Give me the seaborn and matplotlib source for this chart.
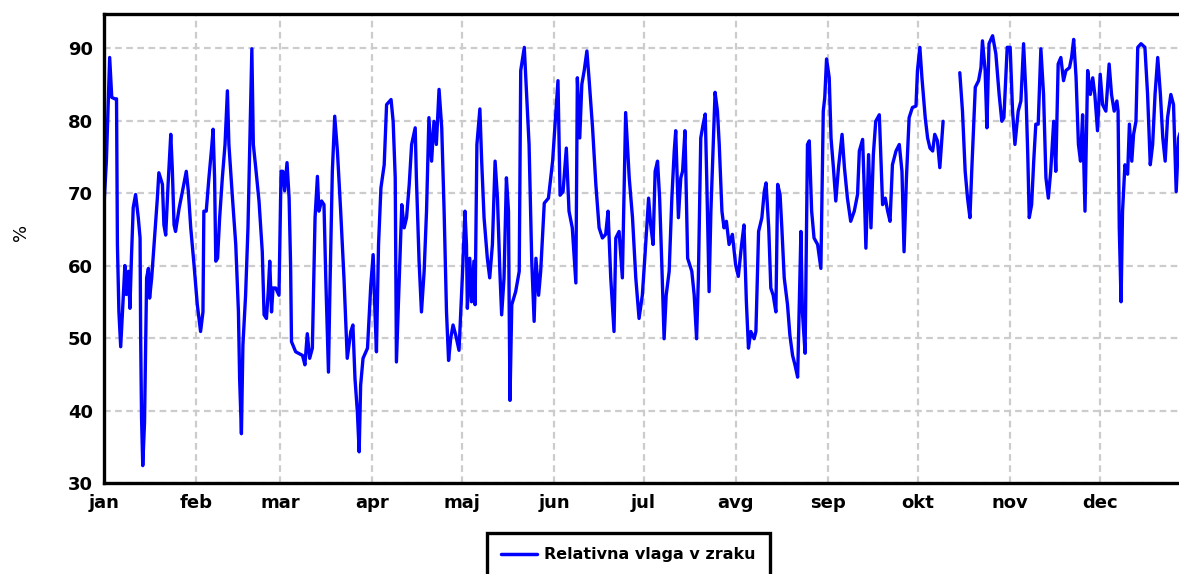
import numpy as np
import pandas as pd
import matplotlib
matplotlib.use("Agg")
import matplotlib.pyplot as plt
import seaborn as sns

# ---- data -------------------------------------------------------------
month_starts = [0, 31, 59, 90, 120, 151, 181, 212, 243, 273, 304, 334]
month_labels = ["jan", "feb", "mar", "apr", "maj", "jun", "jul", "avg",
                "sep", "okt", "nov", "dec"]
y_ticks = [30, 40, 50, 60, 70, 80, 90]
series_name = "Relativna vlaga v zraku"
y_label = "%"

days = [
    0, 0.8, 1.9, 2.6, 3.6, 4.2, 4.5, 5.0, 5.6, 7.0, 7.5, 8.2, 8.7, 9.2, 9.8,
    10.6, 11.5, 12.1, 12.3, 12.6, 13.0, 13.6, 14.3, 14.9, 15.3, 16.0, 16.8,
    17.9, 18.4, 19.6, 20.1, 20.7, 21.5, 22.4, 22.9, 23.5, 24.0, 25.2, 26.3,
    27.6, 28.3, 29.1, 30.2, 31.3, 32.4, 33.2, 33.5, 34.3, 35.2, 36.1, 36.6,
    37.1, 37.5, 38.1, 38.8, 39.7, 40.6, 41.4, 41.9, 43.1, 44.2, 45.1, 45.5,
    46.1, 46.6, 47.5, 48.3, 48.9, 49.6, 50.1, 50.9, 52.0, 53.1, 53.7, 54.5,
    55.1, 55.6, 56.2, 56.7, 57.6, 58.7,
    59.4, 60.0, 60.6, 61.4, 62.1, 62.6, 62.9, 64.3, 66.6, 67.4, 68.2, 69.0,
    69.9, 70.8, 71.6, 72.1, 73.0, 73.8, 74.4, 75.3, 75.8, 76.6, 77.4, 78.3,
    79.4, 80.5, 81.6, 82.2, 82.8, 83.5, 84.2, 85.0, 85.6, 86.1, 86.9, 88.4,
    89.5, 90.3, 90.9, 91.4, 92.1, 92.9, 94.0, 94.8, 96.3, 97.0, 97.7, 98.1,
    98.8, 99.9, 100.7, 101.5, 102.4, 103.2, 104.4, 104.8, 105.7, 106.5,
    107.4, 108.2, 109.0, 109.9, 110.7, 111.5, 112.4, 113.3, 114.1, 114.9,
    115.6, 116.3, 117.1, 118.0, 119.1,
    120.2, 121.1, 121.6, 121.9, 122.7, 123.3, 124.1, 124.5, 125.1, 126.1,
    126.7, 127.5, 128.6, 129.4, 130.3, 131.2, 132.0, 132.8, 133.4, 134.2,
    135.0, 135.7, 135.9, 136.2, 136.8, 138.1, 139.3, 139.8, 141.0, 141.5,
    142.6, 143.5, 144.3, 144.9, 145.8, 146.5, 147.7, 149.1, 150.5, 151.6,
    152.3, 153.0, 154.0, 155.1, 156.0, 157.1, 158.3, 158.8, 159.6, 160.3,
    161.1, 162.0, 162.7, 163.9, 165.0, 166.1, 167.2, 168.3, 169.1, 170.0,
    171.1, 171.7, 172.8, 173.9, 175.0, 176.2, 177.3, 178.4, 179.5,
    180.6, 181.5, 182.7, 183.4, 184.2, 184.9, 185.7, 186.4, 187.1, 187.9,
    188.6, 189.6, 190.5, 191.3, 191.8, 192.7, 193.5, 194.1, 194.9, 195.8,
    197.2, 198.0, 198.8, 199.4, 200.2, 201.0, 201.7, 202.2, 203.0, 203.6,
    204.4, 205.0, 205.8, 206.4, 207.3, 208.0, 208.8, 209.7, 210.8, 211.9,
    212.8, 213.9, 214.7, 215.5, 216.2, 217.0, 218.1, 218.7, 219.6, 220.7,
    221.5, 222.1, 223.0, 223.7, 224.5, 225.4, 226.0, 226.8, 227.4, 228.2,
    229.3, 230.1, 231.0, 231.8, 232.7, 233.2, 233.8, 234.3, 235.2, 236.0,
    236.6, 237.4, 238.2, 239.4, 240.5,
    241.3, 241.8, 242.4, 243.3, 243.9, 244.7, 245.5, 246.4, 247.6, 248.4,
    249.4, 250.5, 251.7, 252.8, 253.4, 254.5, 255.0, 255.6, 256.5, 257.3,
    258.1, 258.9, 260.1, 261.2, 262.1, 262.9, 263.7, 264.5, 265.7, 266.8,
    267.7, 268.4, 269.2, 270.1, 271.2, 272.4, 272.9, 273.7, 274.4, 275.5,
    276.3, 277.1, 278.0, 278.7, 279.6, 280.4, 281.1, 281.5,
    284.0,
    287.1, 288.0, 288.9, 289.7, 290.5, 291.1, 292.3, 293.4, 294.2, 294.7,
    295.6, 296.2, 296.9, 298.1, 299.2, 300.3, 301.2, 301.9, 303.0, 304.0,
    304.8, 305.6, 306.7, 307.6, 308.5, 309.3, 309.9, 310.4, 311.2, 311.9,
    312.6, 313.4, 314.3, 315.2, 316.0, 316.8, 317.6, 318.6, 319.3, 320.1,
    321.0, 321.9, 322.7, 323.9, 324.6, 325.3, 326.1, 326.9, 327.6, 328.3,
    329.1, 330.0, 330.9, 331.7, 332.4, 333.3, 334.2, 335.0, 336.1, 337.2,
    338.0, 338.9, 339.8, 340.2, 340.6, 341.2, 341.7, 342.5, 343.4, 344.0,
    344.8, 345.4, 346.2, 346.8, 347.9, 349.2, 350.1, 351.0, 351.8, 352.6,
    353.5, 354.4, 355.2, 356.0, 356.8, 357.9, 358.8, 359.7, 360.5, 361.5,
]

humidity = [
    68.4, 74.4, 88.7, 83.2, 83.0, 83.0, 62.9, 53.6, 48.8, 60.0, 56.0, 59.2,
    54.1, 61.0, 68.0, 69.8, 66.6, 63.8, 50.0, 38.9, 32.4, 38.4, 58.3, 59.6,
    55.5, 58.3, 62.9, 69.3, 72.8, 71.2, 65.6, 64.2, 71.2, 78.1, 73.5, 65.6,
    64.7, 67.9, 70.2, 73.0, 70.2, 65.2, 60.1, 54.6, 50.9, 53.6, 67.5, 67.5,
    72.1, 76.2, 78.8, 72.1, 60.6, 61.0, 66.6, 72.1, 76.7, 84.1, 76.7, 69.3,
    62.9, 53.6, 44.4, 36.8, 49.0, 55.9, 65.2, 76.7, 89.9, 76.7, 73.5, 68.9,
    61.9, 53.2, 52.7, 56.4, 60.6, 53.6, 56.9, 56.9, 55.9,
    73.0, 73.0, 70.3, 74.2, 69.3, 60.0, 49.5, 48.1, 47.6, 46.3, 50.6, 47.2,
    48.6, 66.6, 72.3, 67.5, 68.9, 68.4, 58.3, 45.3, 56.9, 73.0, 80.6, 75.8,
    67.5, 58.3, 47.2, 49.0, 50.9, 51.8, 44.4, 39.8, 34.3, 43.5, 47.2, 48.6,
    57.3, 61.5, 53.6, 48.1, 62.9, 70.7, 73.9, 82.2, 82.9, 79.9, 72.1, 46.7,
    55.0, 68.4, 65.2, 66.6, 71.2, 76.7, 79.0, 72.1, 60.6, 53.6,
    59.2, 67.5, 80.4, 74.4, 79.9, 76.7, 84.3, 79.0, 67.5, 53.6,
    46.9, 49.9, 51.8, 50.4, 48.3,
    58.3, 67.5, 62.9, 54.1, 61.0, 55.0, 60.6, 54.6, 76.7, 81.6,
    74.4, 66.6, 61.0, 58.3, 62.9, 74.4, 69.3, 59.2, 53.2, 58.3,
    72.1, 67.5, 55.9, 41.4, 54.6, 56.4, 59.2, 86.9, 90.1, 85.9,
    76.7, 60.6, 52.3, 61.0, 55.9, 59.2, 68.6, 69.3, 74.4, 81.3,
    85.5, 69.7, 70.2, 76.2, 67.5, 65.2, 57.6, 85.9, 77.6, 85.0,
    86.9, 89.6, 85.9, 79.0, 71.2, 65.2, 63.8, 64.3, 67.5, 58.3,
    50.9, 63.8, 64.7, 58.3, 81.1, 72.1, 66.6, 58.3, 52.7,
    55.9, 61.5, 69.3, 65.6, 62.9, 73.0, 74.4, 69.3, 60.6, 49.9,
    55.9, 59.2, 69.3, 75.8, 78.6, 66.6, 72.1, 73.0, 78.6, 61.0,
    59.2, 55.9, 49.9, 58.3, 77.6, 79.5, 80.9, 72.1, 56.4, 67.5,
    76.7, 83.9, 81.3, 76.7, 67.5, 65.2, 66.1, 62.9, 64.3, 60.1,
    58.5, 62.9, 65.6, 55.0, 48.6, 50.9, 49.9, 50.9, 64.7, 66.6,
    70.2, 71.4, 65.2, 56.9, 55.9, 53.6, 71.2, 69.8, 65.2, 58.3,
    54.6, 50.4, 47.6, 46.3, 44.6, 53.6, 64.7, 53.6, 47.9, 76.7,
    77.2, 67.5, 63.8, 62.9, 59.6,
    81.3, 83.2, 88.5, 85.9, 77.6, 73.5, 68.9, 73.5, 78.1, 73.5,
    69.3, 66.1, 67.5, 69.8, 75.8, 77.4, 71.2, 62.4, 75.3, 65.2,
    75.3, 79.9, 80.8, 68.4, 69.3, 67.5, 66.1, 73.9, 75.8, 76.7,
    73.0, 61.9, 72.1, 80.4, 81.8, 82.0, 86.9, 90.1, 85.9, 80.4,
    77.6, 76.2, 75.8, 78.1, 77.2, 73.5, 77.6, 79.9,
    np.nan,
    86.6, 81.3, 73.0, 69.3, 66.6, 73.0, 84.6, 85.5, 87.3, 91.0,
    86.9, 79.0, 90.6, 91.7, 89.2, 83.6, 79.9, 80.4, 90.1, 90.1,
    81.3, 76.7, 81.3, 82.7, 90.6, 83.6, 75.3, 66.6, 68.4, 74.4,
    79.5, 79.5, 89.9, 83.6, 72.1, 69.3, 73.0, 79.9, 73.0, 87.8,
    88.7, 85.5, 86.9, 87.3, 88.7, 91.2, 86.0, 76.7, 74.4, 80.8,
    67.5, 86.9, 83.6, 85.9, 83.6, 78.6, 86.4, 82.2, 81.3, 87.8,
    83.6, 81.3, 82.7, 81.3, 65.2, 55.0, 67.5, 73.9, 72.6, 79.5,
    74.4, 78.1, 79.9, 90.1, 90.6, 90.1, 83.6, 73.9, 76.7, 83.6,
    88.7, 83.6, 77.6, 74.4, 80.4, 83.6, 82.2, 70.2, 77.6, 79.0,
]

# ---- frame ------------------------------------------------------------
df = pd.DataFrame({"day": days, "value": humidity})
df["segment"] = df["value"].isna().cumsum()
df["series"] = series_name
df = df.dropna()

sns.set_theme(style="white")
plt.rcParams["font.family"] = ["DejaVu Sans"]
plt.rcParams["text.color"] = "black"

W, H = 1179, 574
fig = plt.figure(figsize=(W / 100, H / 100), dpi=100)
ax = fig.add_axes([104 / W, (H - 483) / H, (1192 - 104) / W, (483 - 14) / H])

sns.lineplot(data=df, x="day", y="value", hue="series", units="segment",
             estimator=None, palette=["#0000ff"], linewidth=2.4, ax=ax,
             sort=False)

ax.set_xlim(0, 365)
ax.set_ylim(30, 94.7)
ax.set_xticks(month_starts)
ax.set_xticklabels(month_labels)
ax.set_yticks(y_ticks)
ax.tick_params(axis="both", which="major", labelsize=13, length=5, width=2,
               color="black", direction="out", pad=3, labelcolor="black")
for lab in ax.get_xticklabels() + ax.get_yticklabels():
    lab.set_fontweight("bold")

ax.grid(True, color="#cccccc", linestyle=(0, (3, 2)), linewidth=1.6)
ax.set_axisbelow(True)
for s in ax.spines.values():
    s.set_color("black")
    s.set_linewidth(2.4)
    s.set_visible(True)

ax.set_xlabel("")
ax.set_ylabel(y_label, fontsize=13, color="black")
ax.yaxis.set_label_coords(-0.068, 0.535)

handles, labels = ax.get_legend_handles_labels()
leg = ax.legend(handles, [series_name], loc="upper left",
                bbox_to_anchor=(487 / W, 1 - 533 / H),
                bbox_transform=fig.transFigure, frameon=True, fancybox=False,
                framealpha=1.0, edgecolor="black",
                fontsize=11.5, handlelength=2.2, handletextpad=0.5,
                borderpad=0.9, borderaxespad=0, labelcolor="black")
leg.get_frame().set_linewidth(2.4)
for t in leg.get_texts():
    t.set_fontweight("bold")
    t.set_color("black")
for l in leg.get_lines():
    l.set_linewidth(2.5)

fig.savefig("out.png", dpi=100)
